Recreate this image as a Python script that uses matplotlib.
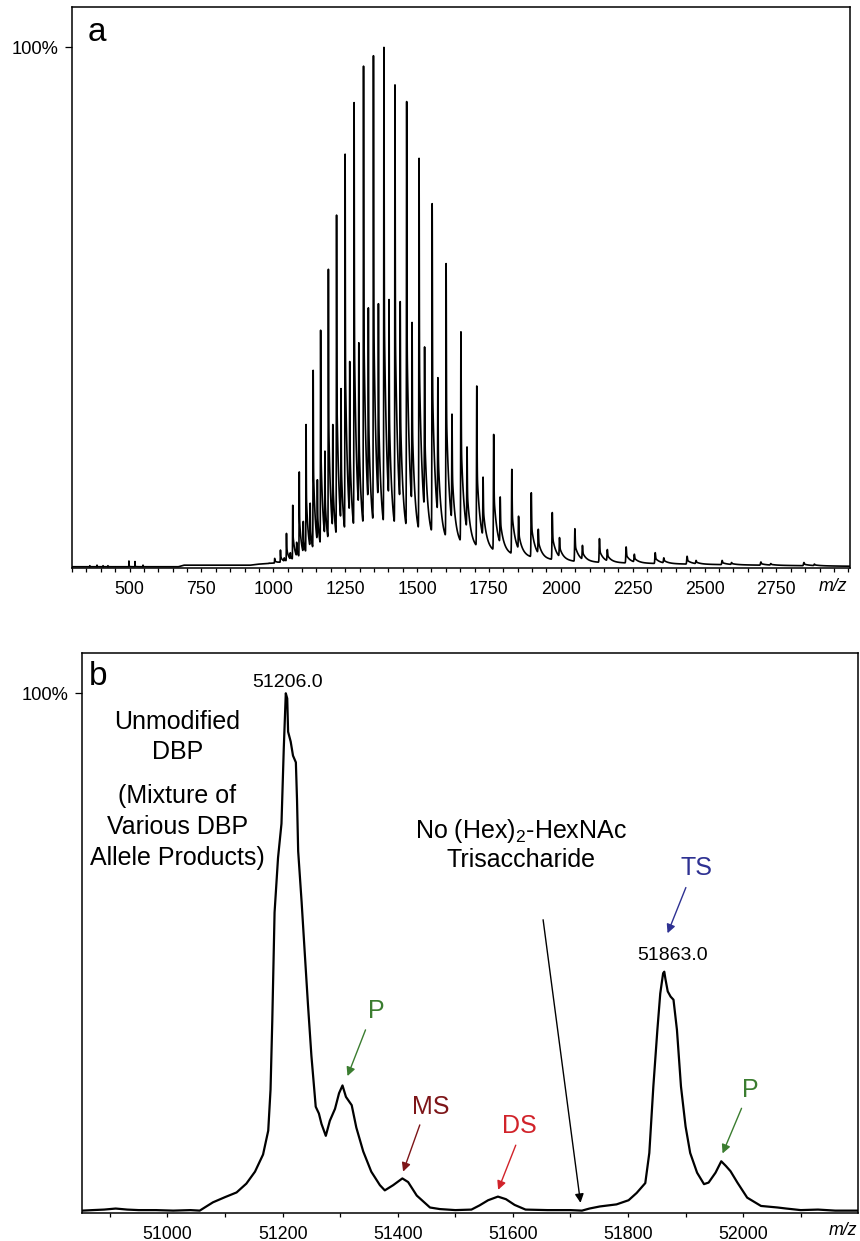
import numpy as np
import matplotlib
matplotlib.use("Agg")
import matplotlib.pyplot as plt
from matplotlib.ticker import MultipleLocator

plt.rcParams['font.family'] = ['Liberation Sans', 'DejaVu Sans']
plt.rcParams['mathtext.default'] = 'regular'
plt.rcParams['path.simplify'] = False

# ---------------- Panel a data (raw ESI spectrum) ----------------
charge_states = [52, 51, 50, 49, 48, 47, 46, 45, 44, 43, 42, 41, 40, 39, 38, 37, 36, 35,
                 34, 33, 32, 31, 30, 29, 28, 27, 26, 25, 24, 23, 22, 21, 20, 19, 18]
main_mz = [985.7, 1005.0, 1025.1, 1046.0, 1067.8, 1090.5, 1114.2, 1138.9, 1164.8, 1191.8,
           1220.2, 1249.9, 1281.2, 1314.0, 1348.5, 1385.0, 1423.4, 1464.0, 1507.1, 1552.7,
           1601.2, 1652.8, 1707.9, 1766.7, 1829.8, 1897.5, 1970.5, 2049.2, 2134.6, 2227.4,
           2328.5, 2439.4, 2561.3, 2696.1, 2845.8]
main_pct = [1.0, 1.9, 3.5, 6.7, 12.1, 18.5, 27.6, 38.0, 45.7, 57.4,
            67.8, 79.5, 89.4, 96.4, 98.4, 100.0, 92.8, 89.6, 78.7, 70.0,
            58.5, 45.4, 35.0, 25.7, 19.0, 14.5, 10.7, 7.6, 5.7, 4.1,
            3.0, 2.3, 1.5, 1.2, 1.1]
ts_mz = [998.4, 1017.9, 1038.3, 1059.4, 1081.5, 1104.5, 1128.5, 1153.5, 1179.7, 1207.1,
         1235.8, 1266.0, 1297.6, 1330.8, 1365.8, 1402.7, 1441.6, 1482.8, 1526.4, 1572.6,
         1621.7, 1674.0, 1729.8, 1789.4, 1853.3, 1921.9, 1995.7, 2075.5, 2162.0, 2255.9,
         2358.4, 2470.7, 2594.2, 2730.6, 2882.3]
ts_pct = [0.8, 1.2, 2.0, 3.0, 5.0, 9.0, 12.5, 17.0, 22.5, 27.6,
          34.5, 39.7, 43.3, 50.0, 50.8, 51.6, 51.2, 47.2, 42.5, 36.6,
          29.6, 23.3, 17.5, 13.7, 10.0, 7.5, 5.9, 4.4, 3.6, 2.7,
          2.0, 1.5, 1.1, 0.9, 0.8]
small_mz = [362, 387, 408, 425, 498, 519, 547]
small_pct = [0.5, 0.6, 0.5, 0.5, 1.4, 1.3, 0.6]
hump_mz = [300, 670, 690, 920, 950, 1000, 1050, 1100, 1150, 1200, 1250, 1300, 1350, 1400,
           1450, 1500, 1550, 1600, 1650, 1750, 1850, 1950, 2050, 2150, 2250, 2450, 2700, 3006]
hump_pct = [0.3, 0.3, 0.6, 0.6, 0.8, 1.0, 1.3, 1.6, 2.0, 2.6, 3.2, 3.9, 4.4, 4.6,
            4.7, 4.8, 4.9, 4.6, 4.2, 3.3, 2.4, 1.7, 1.3, 1.1, 1.0, 0.8, 0.6, 0.4]
a_xticks = [500, 750, 1000, 1250, 1500, 1750, 2000, 2250, 2500, 2750]

# ---------------- Panel b data (deconvoluted spectrum) ----------------
b_mz = [50852, 50870, 50890, 50910, 50930, 50950, 50980, 51010, 51040, 51056,
        51066, 51079, 51100, 51120, 51137, 51152, 51166, 51175, 51179, 51182,
        51186, 51192, 51198, 51202, 51205.5, 51208, 51209.5, 51214, 51218, 51223,
        51225, 51227, 51233, 51238.5, 51244, 51250, 51257.5, 51263, 51267.5, 51275,
        51282, 51291, 51298, 51304, 51310, 51320, 51328, 51340, 51354, 51369,
        51377.5, 51392, 51408, 51418, 51433, 51456, 51473, 51500, 51528, 51542,
        51557, 51574, 51588, 51603, 51622, 51660, 51700, 51720, 51733, 51751,
        51780, 51801, 51815, 51830, 51837, 51844, 51851, 51856, 51861, 51863,
        51865, 51869, 51874, 51879, 51885, 51892, 51900, 51908, 51920, 51932,
        51940, 51952, 51962, 51970, 51978, 51990, 52007, 52031, 52060, 52075,
        52100, 52130, 52160, 52199]
b_pct = [0.4, 0.5, 0.6, 0.8, 0.6, 0.5, 0.5, 0.4, 0.5, 0.4,
         1.1, 2.0, 3.0, 3.9, 5.6, 7.9, 11.2, 15.8, 23.7, 36.8,
         57.8, 68.3, 74.9, 89.4, 100.0, 99.0, 92.6, 90.7, 88.0, 86.7,
         79.5, 69.6, 59.8, 49.9, 40.1, 30.2, 20.4, 19.1, 17.1, 14.8,
         17.7, 20.0, 23.0, 24.5, 22.3, 20.7, 16.4, 11.8, 7.9, 5.3,
         4.3, 5.3, 6.6, 5.9, 3.3, 1.0, 0.7, 0.5, 0.6, 1.4,
         2.4, 3.1, 2.6, 1.5, 0.6, 0.5, 0.5, 0.4, 0.8, 1.2,
         1.6, 2.4, 3.8, 5.7, 11.5, 24.3, 35.2, 42.2, 46.1, 46.4,
         45.0, 42.6, 41.6, 41.0, 35.2, 24.3, 16.6, 11.5, 7.7, 5.5,
         5.8, 7.7, 9.9, 9.0, 8.0, 5.8, 2.9, 1.3, 1.0, 0.8,
         0.5, 0.6, 0.4, 0.4]
b_xticks = [51000, 51200, 51400, 51600, 51800, 52000]
b_peak_labels = ["51206.0", "51863.0"]

GREEN = '#3b7d30'
DARKRED = '#7d1518'
RED = '#d1232a'
NAVY = '#2e3192'

W, H = 860, 1241
fig = plt.figure(figsize=(W / 100, H / 100), dpi=100)


def px_axes(l, t, r, b):
    return fig.add_axes([l / W, 1 - b / H, (r - l) / W, (b - t) / H])


axa = px_axes(72, 7.3, 850, 568.3)
axb = px_axes(82.3, 653.3, 857.7, 1212.7)

# ---------- build panel a trace from the read peak tops ----------
grid = np.arange(300.0, 3006.0, 0.05)
base = np.interp(grid, hump_mz, hump_pct)
pk_mz = np.array(main_mz + ts_mz + small_mz, dtype=float)
pk_top = np.array(main_pct + ts_pct + small_pct, dtype=float)
pk_tail = np.array([0.5] * (len(main_mz) + len(ts_mz)) + [0.1] * len(small_mz))

shapes = []
for m, tl in zip(pk_mz, pk_tail):
    s = 0.0005 * m
    tau = 0.007 * m
    d = grid - m
    sel = np.nonzero((d > -6 * s) & (d < 12 * tau))[0]
    dd = d[sel]
    g = np.exp(-0.5 * (dd / s) ** 2)
    shapes.append((sel, np.where(dd < 0, g, (1 - tl) * g + tl * np.exp(-dd / tau))))


def build(amps):
    tr = base.copy()
    for (sel, shp), a in zip(shapes, amps):
        tr[sel] += a * shp
    return tr


amps = np.maximum(pk_top - np.interp(pk_mz, hump_mz, hump_pct), 0)
for _ in range(8):
    tr = build(amps)
    amps = np.maximum(amps + (pk_top - np.interp(pk_mz, grid, tr)), 0)
trace = build(amps)

axa.plot(grid, trace, color='black', lw=1.2)
axa.set_xlim(300, 3006)
axa.set_ylim(0, 107.7)

# ---------- panel b ----------
axb.plot(b_mz, b_pct, color='black', lw=1.6)
axb.set_xlim(50852, 52199)
axb.set_ylim(0, 107.7)

for ax, ticks, minor, mzx in ((axa, a_xticks, 50, 2948), (axb, b_xticks, 100, 52173)):
    ax.set_xticks(ticks)
    ax.set_xticklabels([str(t) for t in ticks])
    ax.xaxis.set_minor_locator(MultipleLocator(minor))
    ax.set_yticks([100])
    ax.set_yticklabels(['100%'])
    ax.tick_params(axis='x', which='major', direction='out', length=3, width=0.9,
                   pad=6.5, labelsize=12.8)
    ax.tick_params(axis='x', which='minor', direction='out', length=3, width=0.9)
    ax.tick_params(axis='y', which='major', direction='out', length=5, width=0.9,
                   pad=5, labelsize=13.2)
    for sp in ax.spines.values():
        sp.set_linewidth(1.1)
        sp.set_color('black')
    ax.annotate('m/z', xy=(mzx, 0), xycoords=('data', 'axes fraction'),
                xytext=(0, -13), textcoords='offset points', ha='center', va='center',
                fontsize=12.8, style='italic')

axa.text(0.0206, 0.9405, 'a', transform=axa.transAxes, fontsize=24, ha='left', va='baseline')
axb.text(0.0086, 0.9433, 'b', transform=axb.transAxes, fontsize=24, ha='left', va='baseline')

# ---------- panel b annotations ----------
fs = 18
for txt, yb in (("Unmodified", 93.1), ("DBP", 87.3), ("(Mixture of", 78.8),
                ("Various DBP", 72.9), ("Allele Products)", 66.9)):
    axb.text(51017, yb, txt, fontsize=fs, ha='center', va='baseline')

axb.text(51614, 72.1, "No (Hex)$_2$-HexNAc", fontsize=fs, ha='center', va='baseline')
axb.text(51614, 66.6, "Trisaccharide", fontsize=fs, ha='center', va='baseline')

axb.text(51208, 101.3, b_peak_labels[0], fontsize=14, ha='center', va='baseline')
axb.text(51877, 48.65, b_peak_labels[1], fontsize=14, ha='center', va='baseline')


def arrow(txt, color, tx, ty, tail, head):
    if txt:
        axb.text(tx, ty, txt, fontsize=fs, color=color, ha='center', va='baseline')
    axb.annotate('', xy=head, xytext=tail,
                 arrowprops=dict(arrowstyle='-|>', color=color, lw=1.0,
                                 mutation_scale=13, shrinkA=0, shrinkB=0))


arrow("TS", NAVY, 51919, 65.0, (51900.5, 62.6), (51868.7, 53.8))
arrow("P", GREEN, 51362, 37.5, (51344, 35.2), (51312.7, 26.3))
arrow("MS", DARKRED, 51457, 19.0, (51438.3, 16.9), (51409.3, 7.9))
arrow("DS", RED, 51612, 15.4, (51605, 13.0), (51574.4, 4.4))
arrow("P", GREEN, 52013, 22.3, (51997.2, 20.1), (51964.2, 11.4))
arrow(None, 'black', 0, 0, (51652.5, 56.4), (51717.5, 1.9))

fig.savefig('out.png', dpi=100)
